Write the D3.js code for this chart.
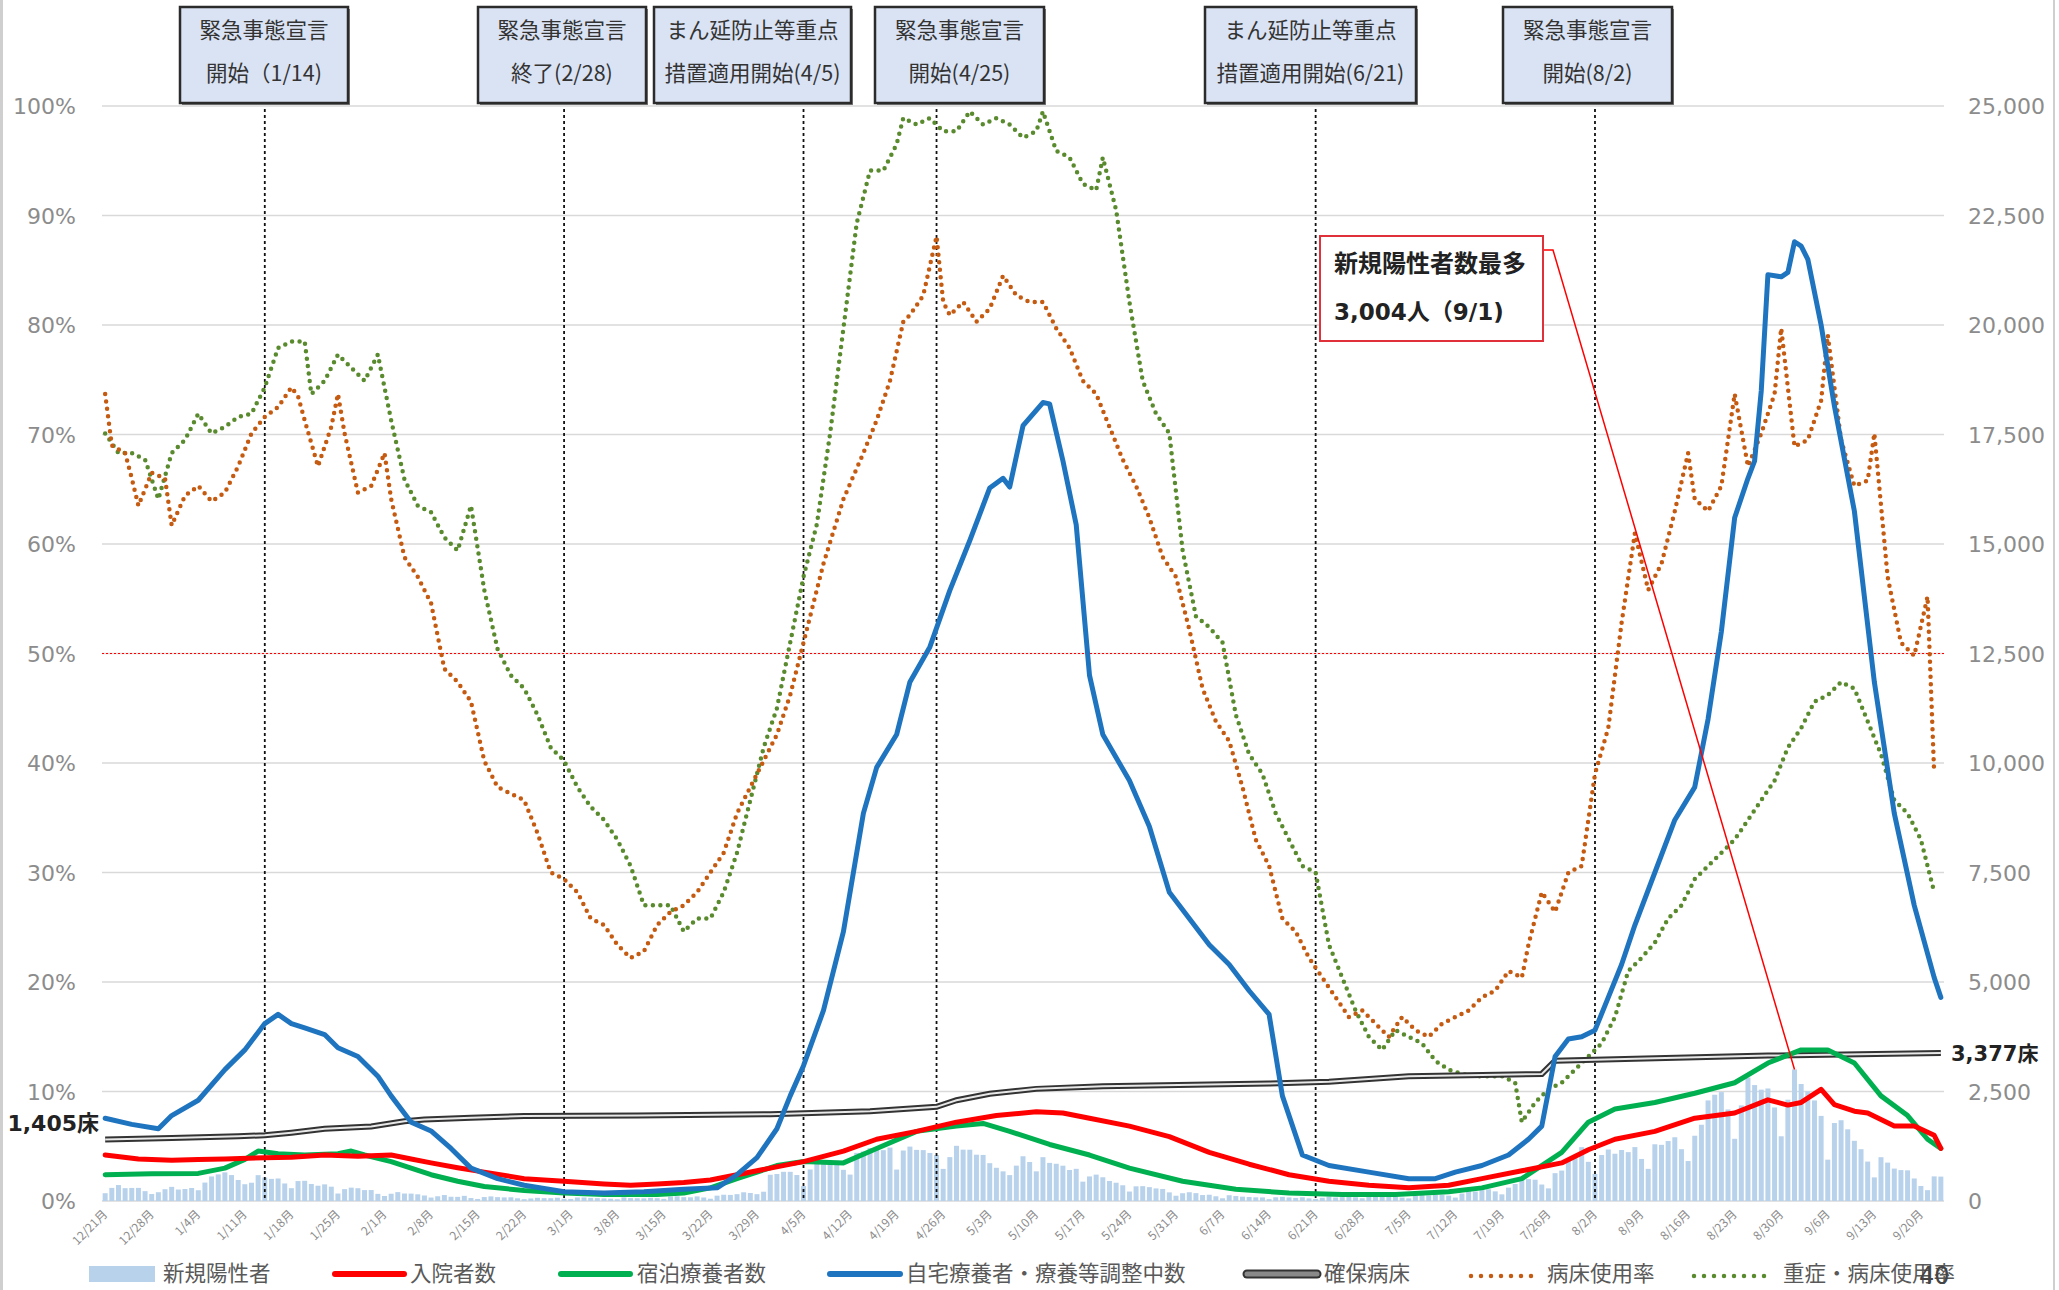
<!DOCTYPE html>
<html><head><meta charset="utf-8">
<script src="https://cdn.jsdelivr.net/npm/d3@7"></script>
<style>body{margin:0;background:#fff;} svg{display:block;}</style>
</head><body>
<svg id="chart" width="2059" height="1290"></svg>
<script>
// ---------------- DATA ----------------
const startDate = "2020-12-21";
const weekLabels = ["12/21月","12/28月","1/4月","1/11月","1/18月","1/25月","2/1月","2/8月","2/15月","2/22月",
  "3/1月","3/8月","3/15月","3/22月","3/29月","4/5月","4/12月","4/19月","4/26月","5/3月","5/10月","5/17月",
  "5/24月","5/31月","6/7月","6/14月","6/21月","6/28月","7/5月","7/12月","7/19月","7/26月","8/2月","8/9月",
  "8/16月","8/23月","8/30月","9/6月","9/13月","9/20月"];
const leftTicks = [0,10,20,30,40,50,60,70,80,90,100];
const rightTicks = [0,2500,5000,7500,10000,12500,15000,17500,20000,22500,25000];

// 新規陽性者 (daily, from 12/21)
const newCases = [
  178,299,364,293,298,299,225, 159,200,269,323,262,274,297, 246,421,560,607,654,592,480,
  383,417,590,536,505,514,400, 293,455,461,389,349,380,327, 171,271,305,292,249,250,163,
  114,166,203,171,169,153,126, 79,108,136,97,95,118,68, 47,90,105,88,82,85,62,
  42,58,73,65,64,75,51, 47,80,80,71,65,58,52, 40,81,66,63,60,72,64,
  49,102,107,88,84,105,80, 52,122,143,139,156,199,183, 156,212,599,616,666,666,593,
  341,719,878,905,883,918,711, 603,1099,1130,1208,1209,1161,1220, 718,1153,1242,1167,1162,1097,1050,
  733,1002,1260,1172,1171,1057,1052, 864,758,677,591,807,1021,890, 677,1001,870,850,806,708,735,
  442,561,602,542,458,417,359, 216,335,339,317,287,275,197, 120,178,200,180,136,143,108,
  62,132,113,99,91,84,82, 43,85,95,81,70,85,60, 46,74,104,80,88,98,85,
  63,108,110,106,97,102,78, 60,120,137,126,141,144,122, 78,171,228,216,248,268,220,
  152,305,389,494,500,486,376, 288,636,695,932,1040,1230,894, 618,1050,1176,1079,1164,1116,1231,
  960,734,1295,1282,1369,1455,1183, 912,1490,1741,2296,2426,2486,2090, 1420,2183,2820,2647,2542,2569,2136,
  1478,2313,3004,2671,2505,2296,1943, 944,1780,1844,1637,1374,1183,900, 539,1000,876,740,706,700,514,
  343,248,562,557];

// [day offset from startDate, value]
const hospitalized = [[0,1050],[5,960],[10,930],[14,950],[18,960],[24,990],[28,1000],[33,1050],[38,1020],[43,1050],
  [46,960],[49,870],[53,760],[57,660],[63,510],[69,450],[75,390],[79,360],[83,390],[87,420],[91,480],[95,600],
  [100,750],[105,900],[111,1140],[116,1410],[122,1590],[128,1800],[134,1950],[140,2040],[144,2010],[148,1890],
  [154,1710],[160,1470],[166,1110],[172,840],[178,600],[184,450],[190,360],[196,300],[202,360],[207,510],[213,690],
  [219,870],[223,1170],[227,1410],[233,1590],[239,1890],[245,2010],[250,2310],[253,2190],[255,2250],[258,2550],
  [260,2200],[263,2050],[265,2010],[269,1710],[272,1710],[275,1500],[276,1200]];
const hotel = [[0,600],[7,620],[14,630],[18,750],[21,950],[23,1140],[26,1080],[30,1050],[35,1080],[37,1140],[39,1050],
  [43,900],[46,750],[49,600],[53,450],[57,330],[63,240],[69,180],[75,150],[83,150],[87,180],[91,300],[95,510],
  [101,810],[105,900],[111,870],[116,1200],[122,1590],[128,1710],[132,1770],[136,1590],[142,1290],[148,1050],
  [154,750],[162,450],[170,270],[178,180],[186,150],[194,150],[202,210],[207,300],[213,510],[219,1110],[223,1800],
  [227,2100],[233,2250],[239,2460],[245,2700],[250,3150],[255,3450],[259,3450],[263,3150],[267,2400],[271,1950],
  [274,1410],[276,1200]];
const homeCare = [[0,1890],[4,1750],[8,1650],[10,1950],[14,2300],[18,3000],[21,3450],[24,4050],[26,4260],[28,4050],
  [30,3950],[33,3800],[35,3500],[38,3300],[41,2850],[43,2400],[46,1800],[49,1600],[52,1200],[55,750],[59,510],
  [63,360],[69,210],[75,180],[81,210],[87,270],[92,300],[95,600],[98,990],[101,1650],[103,2400],[105,3090],
  [108,4350],[111,6150],[114,8850],[116,9900],[119,10650],[121,11850],[124,12650],[127,13940],[130,15080],
  [133,16280],[135,16500],[136,16300],[138,17700],[141,18230],[142,18200],[144,16900],[146,15440],[148,12000],
  [150,10650],[154,9600],[157,8550],[160,7050],[163,6450],[166,5850],[169,5400],[172,4800],[175,4260],[177,2400],
  [180,1050],[184,810],[190,660],[196,510],[200,510],[203,660],[207,810],[211,1050],[214,1410],[216,1710],
  [218,3300],[220,3700],[222,3750],[224,3900],[226,4650],[228,5400],[230,6300],[233,7500],[236,8700],[239,9450],
  [241,11000],[243,13000],[245,15600],[247,16500],[248,16900],[249,18500],[250,21150],[252,21100],[253,21200],
  [254,21900],[255,21800],[256,21500],[258,20000],[260,18150],[263,15750],[266,11850],[269,8850],[272,6750],
  [275,5100],[276,4650]];
const securedBeds = [[0,1405],[10,1440],[20,1480],[24,1500],[28,1560],[33,1650],[40,1700],[45,1820],[48,1860],
  [55,1900],[63,1940],[80,1950],[100,1980],[115,2050],[125,2150],[128,2300],[133,2450],[140,2560],[150,2620],
  [175,2680],[184,2720],[196,2850],[216,2900],[218,3200],[230,3250],[250,3320],[276,3377]];
// 病床使用率 (%)
const bedRate = [[0,73.7],[1,69],[3,68.3],[4,66],[5,63.5],[7,66.5],[9,66],[10,61.7],[12,64.4],[14,65.3],[16,63.9],
  [18,64.7],[20,67.1],[22,70.1],[24,71.6],[26,72.5],[28,74.3],[29,73.5],[30,71.3],[32,67.1],[34,70.7],[35,73.7],
  [36,70.1],[38,64.7],[40,65.3],[42,68.3],[43,64.1],[45,58.8],[47,57],[49,54.6],[51,48.6],[53,47.4],[55,45.6],
  [57,40.2],[59,37.8],[61,37.2],[63,36.6],[65,33.6],[67,30],[69,29.4],[71,28.2],[73,25.8],[75,25.2],[77,23.4],
  [79,22.2],[81,22.8],[83,25.2],[85,26.4],[87,27],[89,28.2],[91,30],[93,31.8],[95,35.4],[97,37.8],[99,40.2],
  [101,42.6],[103,46.2],[105,51],[108,58.2],[111,64.1],[114,68.3],[116,71.3],[118,74.9],[120,80.3],[121,80.9],
  [123,82.7],[125,88.1],[126,82.1],[127,80.9],[129,82.1],[131,80.3],[133,81.5],[135,84.5],[137,82.7],[139,82.1],
  [141,82.1],[143,79.7],[145,77.9],[147,74.9],[149,73.7],[151,70.7],[153,67.7],[155,65.3],[157,62.4],[159,58.8],
  [161,57],[163,52.2],[165,46.8],[167,43.8],[169,42],[171,37.8],[173,33],[175,30.6],[177,25.8],[179,24.6],
  [181,22.2],[183,20.4],[185,18.6],[187,16.8],[189,17.4],[191,16.2],[193,15],[195,16.8],[197,15.6],[199,15],
  [201,16.2],[203,16.8],[205,17.4],[207,18.6],[209,19.2],[211,21],[213,20.4],[214,23.4],[216,28.2],[218,26.4],
  [220,30],[222,30.6],[224,39],[226,43.2],[228,52.8],[230,61],[232,55.8],[234,58.2],[236,63],[238,68.3],
  [239,64.1],[241,63],[243,65.3],[245,73.7],[247,67.1],[249,70.1],[251,73.7],[252,79.7],[254,68.9],[256,69.5],
  [258,73.1],[259,79.1],[261,69.5],[263,65.3],[265,65.8],[266,70.1],[268,57],[270,51],[272,49.8],[274,55.2],[275,39]];
// 重症・病床使用率 (%)
const severeRate = [[0,70.1],[2,68.3],[4,68.3],[6,67.7],[8,64.1],[10,68.3],[12,69.5],[14,71.9],[16,70.1],[18,70.7],
  [20,71.6],[22,71.9],[24,74.3],[26,77.9],[28,78.5],[30,78.5],[31,73.7],[33,74.9],[35,77.3],[37,76.1],[39,74.9],
  [41,77.3],[43,71.3],[45,65.9],[47,63.5],[49,62.9],[51,60.6],[53,59.4],[55,63.5],[57,55.8],[59,50.4],[61,48],
  [63,46.8],[65,44.4],[67,41.4],[69,40.2],[71,37.8],[73,36],[75,34.8],[77,33],[79,30.6],[81,27],[83,27],[85,27],
  [87,24.6],[89,25.8],[91,25.8],[93,28.2],[95,31.8],[97,36.6],[99,41.4],[101,45],[103,51],[105,57],[107,61.8],
  [109,70.1],[111,79.7],[113,89.3],[115,94.1],[117,94.1],[119,96.5],[120,98.9],[122,98.3],[124,98.9],[126,97.7],
  [128,97.7],[130,99.5],[132,98.3],[134,98.9],[136,98.3],[138,97.1],[140,97.7],[141,99.5],[143,95.9],[145,95.3],
  [147,92.9],[149,92.3],[150,95.3],[152,90.5],[154,82.1],[156,74.9],[158,71.9],[160,70.1],[162,59.4],[164,53.4],
  [166,52.4],[168,51],[170,44.4],[172,40.8],[174,39],[176,35.4],[178,33],[180,30.6],[182,30],[184,23.4],[186,20.4],
  [188,17.4],[190,15],[192,13.8],[194,15.6],[196,15],[198,14.4],[200,12.8],[202,12],[204,11.6],[206,11.4],
  [208,11.4],[210,11.4],[212,10.8],[213,7.2],[215,9],[217,10.2],[219,10.8],[221,12],[223,13.2],[225,14.4],
  [227,16.8],[229,21],[231,22.2],[233,23.6],[235,25.8],[237,27],[239,29.4],[241,30.6],[243,31.8],[245,33],
  [247,34.8],[249,36.6],[251,38.4],[253,41.4],[255,43.2],[257,45.6],[259,46.2],[261,47.4],[263,46.8],[265,43.8],
  [267,40.8],[269,36.6],[271,35.4],[273,33],[275,28.2]];

const eventDays = [24, 69, 105, 125, 182, 224];
const eventLine1 = ["緊急事態宣言","緊急事態宣言","まん延防止等重点","緊急事態宣言","まん延防止等重点","緊急事態宣言"];
const eventLine2 = ["開始（1/14)","終了(2/28)","措置適用開始(4/5)","開始(4/25)","措置適用開始(6/21)","開始(8/2)"];
const peakDay = 254;
const peakText = ["新規陽性者数最多","3,004人（9/1)"];
const bedStartLabel = "1,405床";
const bedEndLabel = "3,377床";
const thresholdPct = 50;
const legendLabels = ["新規陽性者","入院者数","宿泊療養者数","自宅療養者・療養等調整中数","確保病床","病床使用率","重症・病床使用率"];
const pageNumber = "40";

// ---------------- LAYOUT ----------------
const svg = d3.select("#chart");
const M = {left:102, right:1944, top:106, bottom:1201};
const JP = "'Noto Sans CJK JP','Noto Sans',sans-serif";
const NUM = "'DejaVu Sans',Verdana,sans-serif";
const NUMJP = "'DejaVu Sans','Noto Sans CJK JP',sans-serif";
const C = {bar:"#b8d2ec", red:"#ff0000", green:"#00b050", blue:"#1f74c0", gray:"#595959",
           brown:"#c55a11", olive:"#5a8a2e", grid:"#d9d9d9", tick:"#8c8c8c"};

const days = d3.range(newCases.length);
const x = d3.scaleBand().domain(days).range([M.left, M.right]).paddingInner(0.25).paddingOuter(0.1);
const xc = d => x(d) + x.bandwidth()/2;
const yL = d3.scaleLinear().domain([0,100]).range([M.bottom, M.top]);
const yR = d3.scaleLinear().domain([0,25000]).range([M.bottom, M.top]);

// frame
svg.append("line").attr("x1",1.5).attr("x2",1.5).attr("y1",0).attr("y2",1290).attr("stroke","#cfcfcf").attr("stroke-width",3);
svg.append("line").attr("x1",2054).attr("x2",2054).attr("y1",0).attr("y2",1290).attr("stroke","#cfcfcf").attr("stroke-width",2);

// gridlines
svg.append("g").selectAll("line").data(leftTicks).join("line")
  .attr("x1",M.left).attr("x2",M.right).attr("y1",d=>yL(d)).attr("y2",d=>yL(d))
  .attr("stroke",C.grid).attr("stroke-width",1.5);

// left axis labels
svg.append("g").selectAll("text").data(leftTicks).join("text")
  .attr("x",76).attr("y",d=>yL(d)+8).attr("text-anchor","end")
  .attr("font-family",NUM).attr("font-size",22).attr("fill",C.tick).text(d=>d+"%");
// right axis labels
const fmt = d3.format(",");
svg.append("g").selectAll("text").data(rightTicks).join("text")
  .attr("x",1968).attr("y",d=>yR(d)+8).attr("text-anchor","start")
  .attr("font-family",NUM).attr("font-size",22).attr("fill",C.tick).text(d=>fmt(d));

// 50% threshold line
svg.append("line").attr("x1",M.left).attr("x2",M.right).attr("y1",yL(thresholdPct)).attr("y2",yL(thresholdPct))
  .attr("stroke","#ff0000").attr("stroke-width",1.2).attr("stroke-dasharray","2,2");

// bars
svg.append("g").selectAll("rect").data(newCases).join("rect")
  .attr("x",(d,i)=>x(i)).attr("width",x.bandwidth())
  .attr("y",d=>yR(d)).attr("height",d=>M.bottom-yR(d)).attr("fill",C.bar);

// event dashed lines
svg.append("g").selectAll("line").data(eventDays).join("line")
  .attr("x1",d=>xc(d)).attr("x2",d=>xc(d)).attr("y1",M.top+3).attr("y2",M.bottom)
  .attr("stroke","#111").attr("stroke-width",1.8).attr("stroke-dasharray","3,3");

// x labels
svg.append("g").selectAll("text").data(weekLabels).join("text")
  .attr("transform",(d,i)=>`translate(${xc(i*7)+3},${M.bottom+14}) rotate(-45)`)
  .attr("text-anchor","end").attr("font-family",JP).attr("font-size",12).attr("fill",C.tick).text(d=>d);

// lines
const lineR = d3.line().x(d=>xc(d[0])).y(d=>yR(d[1]));
const lineL = d3.line().x(d=>xc(d[0])).y(d=>yL(d[1]));
function dotted(data, color){
  svg.append("path").datum(data).attr("d",lineL).attr("fill","none").attr("stroke",color)
    .attr("stroke-width",4.5).attr("stroke-linecap","round").attr("stroke-dasharray","0,7.5");
}
dotted(severeRate, C.olive);
dotted(bedRate, C.brown);

// secured beds double line
svg.append("path").datum(securedBeds).attr("d",lineR).attr("fill","none").attr("stroke","#333").attr("stroke-width",6);
svg.append("path").datum(securedBeds).attr("d",lineR).attr("fill","none").attr("stroke","#e8e8e8").attr("stroke-width",2);

function solid(data,color){
  svg.append("path").datum(data).attr("d",lineR).attr("fill","none").attr("stroke",color)
    .attr("stroke-width",5).attr("stroke-linejoin","round").attr("stroke-linecap","round");
}
solid(hotel, C.green);
solid(hospitalized, C.red);
solid(homeCare, C.blue);

// bed labels
svg.append("text").attr("x",99).attr("y",yR(securedBeds[0][1])-8).attr("text-anchor","end")
  .attr("font-family",NUMJP).attr("font-weight","bold").attr("font-size",22).attr("fill","#222").text(bedStartLabel);
svg.append("text").attr("x",1951).attr("y",yR(securedBeds[securedBeds.length-1][1])+8).attr("text-anchor","start")
  .attr("font-family",NUMJP).attr("font-weight","bold").attr("font-size",21).attr("fill","#222").text(bedEndLabel);

// event boxes (layout positions)
const boxes = [[180,168],[478,168],[654,197],[875,169],[1205,211],[1503,169]];
const bg = svg.append("g");
boxes.forEach((b,i)=>{
  bg.append("rect").attr("x",b[0]+2).attr("y",9).attr("width",b[1]).attr("height",96).attr("fill","#7f7f7f");
  bg.append("rect").attr("x",b[0]).attr("y",7).attr("width",b[1]).attr("height",96)
    .attr("fill","#dae3f3").attr("stroke","#2b2b2b").attr("stroke-width",2.5);
  bg.append("text").attr("x",b[0]+b[1]/2).attr("y",38).attr("text-anchor","middle")
    .attr("font-family",JP).attr("font-size",21.5).attr("fill","#333").text(eventLine1[i]);
  bg.append("text").attr("x",b[0]+b[1]/2).attr("y",81).attr("text-anchor","middle")
    .attr("font-family",JP).attr("font-size",21.5).attr("fill","#333").text(eventLine2[i]);
});

// peak callout
const px = xc(peakDay), py = yR(newCases[peakDay]);
svg.append("polyline").attr("points",`1543,250 1553,250 ${px},${py}`).attr("fill","none")
  .attr("stroke","#ff0000").attr("stroke-width",1.5);
svg.append("rect").attr("x",1320).attr("y",236).attr("width",223).attr("height",105)
  .attr("fill","#fff").attr("stroke","#e0303a").attr("stroke-width",2);
svg.append("text").attr("x",1334).attr("y",272).attr("font-family",JP).attr("font-weight","bold")
  .attr("font-size",24).attr("fill","#222").text(peakText[0]);
svg.append("text").attr("x",1334).attr("y",320).attr("font-family",NUMJP).attr("font-weight","bold")
  .attr("font-size",23).attr("fill","#222").text(peakText[1]);

// legend
const LY = 1274;
const lg = svg.append("g").attr("font-family",JP).attr("font-size",21.5).attr("fill","#595959");
lg.append("rect").attr("x",89).attr("y",LY-8).attr("width",66).attr("height",16).attr("fill",C.bar);
const legX = [[89,155,163],[335,404,410],[561,630,637],[830,900,906],[1247,1317,1324],[1471,1536,1547],[1694,1773,1783]];
[[1,C.red],[2,C.green],[3,C.blue]].forEach(([i,c])=>{
  lg.append("line").attr("x1",legX[i][0]).attr("x2",legX[i][1]).attr("y1",LY).attr("y2",LY)
    .attr("stroke",c).attr("stroke-width",6).attr("stroke-linecap","round");
});
lg.append("line").attr("x1",legX[4][0]).attr("x2",legX[4][1]).attr("y1",LY).attr("y2",LY)
  .attr("stroke","#333").attr("stroke-width",9).attr("stroke-linecap","round");
lg.append("line").attr("x1",legX[4][0]).attr("x2",legX[4][1]).attr("y1",LY).attr("y2",LY)
  .attr("stroke","#8a8a8a").attr("stroke-width",5).attr("stroke-linecap","round");
[[5,C.brown],[6,C.olive]].forEach(([i,c])=>{
  lg.append("line").attr("x1",legX[i][0]).attr("x2",legX[i][1]).attr("y1",LY+2).attr("y2",LY+2)
    .attr("stroke",c).attr("stroke-width",4.5).attr("stroke-linecap","round").attr("stroke-dasharray","0,10");
});
legendLabels.forEach((t,i)=>{
  lg.append("text").attr("x",legX[i][2]).attr("y",LY+7).text(t);
});
svg.append("text").attr("x",1919).attr("y",1284).attr("font-family",NUM).attr("font-size",24).attr("fill","#444").text(pageNumber);
</script>
</body></html>
